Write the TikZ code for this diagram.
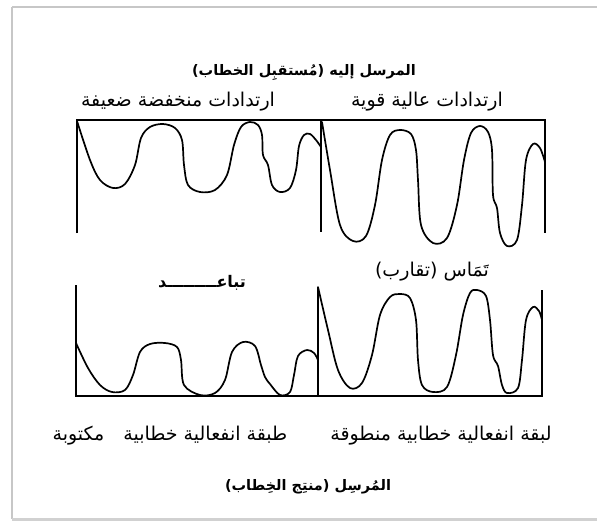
\documentclass[tikz,border=0pt]{standalone}
\usepackage{fontspec}
\newfontfamily\arabicfont[Script=Arabic]{DejaVu Sans}
\TeXXeTstate=1
\usetikzlibrary{positioning}
\tikzset{
  lbl/.style   = {font=\fontsize{19}{22}\selectfont\arabicfont, inner sep=1pt},
  ttl/.style   = {font=\fontsize{14.5}{17}\selectfont\arabicfont\bfseries, inner sep=1pt},
  panel/.style = {line width=1.2pt, line join=miter},
  wave/.style  = {line width=1.7pt, smooth, tension=0.55, line cap=round},
  border/.style= {line width=2pt, black!22}
}

\begin{document}
\begin{tikzpicture}[x=1pt, y=-1pt]
\useasboundingbox (0,0) rectangle (597,528);

% ---------- outer frame ----------
\draw[border] (12,7) -- (12,519);
\draw[border] (12,7) -- (597,7);
\draw[border, line width=3pt, black!18] (12,519) -- (597,519);

% ---------- panel corners ----------
\coordinate (tl)  at (77,233);   \coordinate (tlt) at (77,120);
\coordinate (trt) at (545,120);  \coordinate (tr)  at (545,233);
\coordinate (tmt) at (321,120);  \coordinate (tm)  at (321,232);
\coordinate (bl)  at (76,285);   \coordinate (blb) at (76,396);
\coordinate (brb) at (542,396);  \coordinate (br)  at (542,290);
\coordinate (bmt) at (318,287);  \coordinate (bmb) at (318,396);

% top panel (open at the bottom)
\draw[panel] (tl) -- (tlt) -- (trt) -- (tr);
\draw[panel] (tmt) -- (tm);
% bottom panel (open at the top)
\draw[panel] (bl) -- (blb) -- (brb) -- (br);
\draw[panel] (bmt) -- (bmb);

% ---------- waves, top ----------
\draw[wave] plot coordinates {(77,121) (90,160) (100,180) (113,188) (125,184)
  (135,165) (141,138) (150,127) (163,124) (175,128) (182,140) (184,165) (188,185)
  (200,192) (215,190) (227,175) (234,145) (241,127) (250,122) (258,125) (262,135)
  (263,155) (268,165) (272,185) (280,192) (290,188) (296,170) (299,146) (304,135)
  (310,134) (316,140) (321,147)};
\draw[wave] plot coordinates {(322,122) (330,170) (340,225) (353,241) (366,236)
  (375,205) (382,160) (390,135) (400,130) (411,134) (416,150) (418,180) (421,225)
  (433,243) (447,238) (457,205) (464,160) (471,133) (480,126) (488,132) (492,150)
  (493,195) (497,208) (500,233) (507,246) (517,240) (522,205) (526,160) (533,144)
  (540,148) (545,162)};

% ---------- waves, bottom ----------
\draw[wave] plot coordinates {(76,343) (88,368) (100,385) (112,392) (125,390)
  (133,375) (140,352) (150,344) (165,343) (177,347) (181,360) (184,385) (200,395)
  (215,393) (225,380) (232,352) (243,342) (255,346) (261,365) (265,377) (270,384)
  (280,395) (290,392) (294,375) (298,356) (307,350) (314,353) (318,360)};
\draw[wave] plot coordinates {(318,287) (328,330) (338,370) (350,388) (362,383)
  (372,355) (380,315) (390,297) (400,294) (410,298) (416,320) (418,360) (422,385)
  (433,392) (447,387) (456,355) (463,315) (470,293) (477,290) (486,296) (490,320)
  (493,355) (498,366) (502,385) (507,393) (518,388) (522,360) (526,320) (533,307)
  (539,311) (542,320)};

% ---------- labels ----------
\node[ttl] (sink)    at (304,72)  {\beginR المرسل إليه (مُستقبِل الخطاب)\endR};
\node[lbl] (lowrng)  at (178,102) {\beginR ارتدادات منخفضة ضعيفة\endR};
\node[lbl] (highrng) at (427,102) {\beginR ارتدادات عالية قوية\endR};
\node[ttl, font=\fontsize{16}{19}\selectfont\arabicfont\bfseries] (far)
      at (202,283) {\beginR تباعـــــــــد\endR};
\node[lbl] (near)    at (432,272) {\beginR تَمَاس (تقارب)\endR};
\node[lbl] (written) at (170,436) {\beginR طبقة انفعالية خطابية\quad مكتوبة\endR};
\node[lbl] (spoken)  at (441,436) {\beginR لبقة انفعالية خطابية منطوقة\endR};
\node[ttl] (source)  at (308,487) {\beginR المُرسِل (منتِج الخِطاب)\endR};

\end{tikzpicture}
\end{document}
